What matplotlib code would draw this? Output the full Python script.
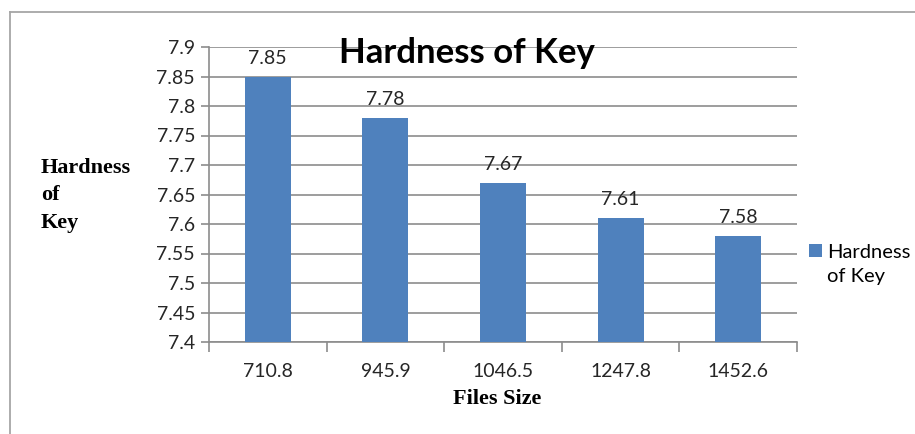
import matplotlib.pyplot as plt
from matplotlib.lines import Line2D
from matplotlib.patches import Rectangle
from matplotlib.legend_handler import HandlerPatch

# file sizes and the key hardness measured for each
sizes = ["710.8", "945.9", "1046.5", "1247.8", "1452.6"]
hardness = [7.85, 7.78, 7.67, 7.61, 7.58]
yticks = [7.4, 7.45, 7.5, 7.55, 7.6, 7.65, 7.7, 7.75, 7.8, 7.85, 7.9]

W, H = 915, 434
fig = plt.figure(figsize=(W / 100, H / 100), dpi=100)
ax = fig.add_axes([209 / W, 1 - 342 / H, 588 / W, 295 / H])

bar_color = "#4F81BD"
grid_color = "#8C8C8C"
text_color = "#262626"
tick_font = "Lato"

x = range(len(sizes))
bars = ax.bar(x, hardness, width=0.39, color=bar_color, zorder=3)

for xi, v in zip(x, hardness):
    ax.annotate(f"{v:g}", (xi, v), xytext=(0, 7), textcoords="offset points",
                ha="center", va="bottom", fontsize=14, family=tick_font,
                color=text_color)

ax.set_ylim(7.4, 7.9)
ax.set_xlim(-0.5, len(sizes) - 0.5)
ax.set_yticks(yticks)
ax.set_yticklabels([f"{t:g}" for t in yticks], family=tick_font, fontsize=14,
                   color=text_color)
ax.yaxis.grid(True, color=grid_color, linewidth=1.2, zorder=0)

# category labels sit between the boundary ticks
ax.set_xticks(list(x))
ax.set_xticklabels(sizes, family=tick_font, fontsize=14, color=text_color)
ax.tick_params(axis="x", length=0, pad=15)
ax.set_xticks([i - 0.5 for i in range(len(sizes) + 1)], minor=True)
ax.tick_params(axis="x", which="minor", length=7, color=grid_color, width=1.2)
ax.tick_params(axis="y", length=6, color=grid_color, width=1.2, pad=4)

for side in ["top", "right"]:
    ax.spines[side].set_visible(False)
for side in ["left", "bottom"]:
    ax.spines[side].set_color(grid_color)
    ax.spines[side].set_linewidth(1.2)

fig.text(467 / W, 1 - 63 / H, "Hardness of Key", family=tick_font,
         fontweight="bold", fontsize=25, ha="center", va="baseline")

fig.text(497 / W, 1 - 404 / H, "Files Size", family="Liberation Serif",
         fontweight="bold", fontsize=16, ha="center", va="baseline")
fig.text(41 / W, 1 - 158 / H, "Hardness\nof\nKey", family="Liberation Serif",
         fontweight="bold", fontsize=16, ha="left", va="top",
         linespacing=1.5)


# legend swatch lines up with the first line of the label
def top_swatch(legend, orig_handle, xdescent, ydescent, width, height, fontsize):
    return Rectangle((-xdescent, -ydescent + 10), width, height)


leg = fig.legend([bars[0]], ["Hardness\nof Key"], loc="upper left",
                 bbox_to_anchor=(791 / W, 1 - 226 / H),
                 frameon=False, prop={"family": tick_font, "size": 14.5},
                 handlelength=0.65, handleheight=0.65, handletextpad=0.25,
                 handler_map={Rectangle: HandlerPatch(patch_func=top_swatch)})
leg.get_texts()[0].set_linespacing(1.5)

# outer chart frame
fig.add_artist(Line2D([10 / W, 10 / W], [0, 1 - 12 / H], color="#A6A6A6",
                      linewidth=1.3, transform=fig.transFigure))
fig.add_artist(Line2D([10 / W, 1], [1 - 12 / H, 1 - 12 / H], color="#A6A6A6",
                      linewidth=1.3, transform=fig.transFigure))

fig.savefig("out.png", dpi=100)
